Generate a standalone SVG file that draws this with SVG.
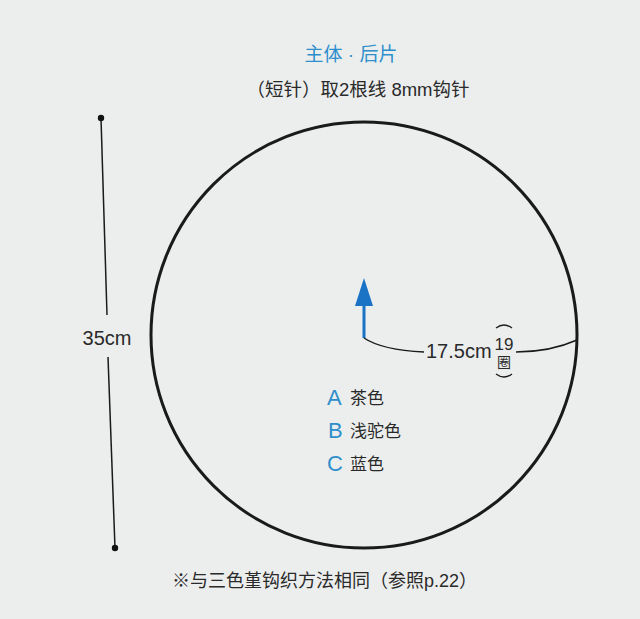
<svg xmlns="http://www.w3.org/2000/svg" width="640" height="619" viewBox="0 0 640 619">
<style>
.t{font-family:"Liberation Sans","Noto Sans CJK SC",sans-serif;fill:#2a2a2a}
.b{fill:#2f8fcb}
.ln{fill:none;stroke:#1a1a1a}
</style>
<rect width="640" height="619" fill="#eceeee"/>
<g id="title">
<text class="t b" x="351" y="61" font-size="19" text-anchor="middle">主体 · 后片</text>
<text class="t" x="358" y="96" font-size="18.5" text-anchor="middle">（短针）取2根线 8mm钩针</text>
</g>
<g id="circle">
<ellipse class="ln" cx="364" cy="335" rx="213" ry="213" stroke-width="3"/>
</g>
<g id="dimension-height">
<line class="ln" x1="101" y1="118" x2="107" y2="315" stroke-width="1.5"/>
<line class="ln" x1="108" y1="357" x2="115" y2="548" stroke-width="1.5"/>
<circle cx="101" cy="118" r="3.2" fill="#111"/>
<circle cx="115" cy="548" r="3.2" fill="#111"/>
<text class="t" x="107" y="345" font-size="20" text-anchor="middle">35cm</text>
</g>
<g id="arrow">
<line x1="364" y1="338" x2="364" y2="302" stroke="#1a73c4" stroke-width="3"/>
<polygon points="364,278 355,306 373,306" fill="#1a73c4"/>
</g>
<g id="connectors">
<path class="ln" d="M364,338 Q382,350 424,352" stroke-width="1.5"/>
<path class="ln" d="M516,352 Q550,352 577,340" stroke-width="1.5"/>
<path class="ln" d="M496,328 Q504,322 512,328" stroke-width="1.3"/>
<path class="ln" d="M496,374 Q504,380 512,374" stroke-width="1.3"/>
</g>
<g id="radius-label">
<text class="t" x="426" y="358" font-size="20">17.5cm</text>
<text class="t" x="504" y="350" font-size="17" text-anchor="middle">19</text>
<text class="t" x="504" y="367" font-size="14" text-anchor="middle">圈</text>
</g>
<g id="legend">
<text class="t b" x="327" y="405" font-size="22">A</text>
<text class="t" x="350" y="404" font-size="17">茶色</text>
<text class="t b" x="328" y="438" font-size="22">B</text>
<text class="t" x="350" y="437" font-size="17">浅驼色</text>
<text class="t b" x="327" y="471" font-size="22">C</text>
<text class="t" x="350" y="470" font-size="17">蓝色</text>
</g>
<g id="note">
<text class="t" x="172" y="587" font-size="18">※与三色堇钩织方法相同（参照p.22）</text>
</g>
</svg>
